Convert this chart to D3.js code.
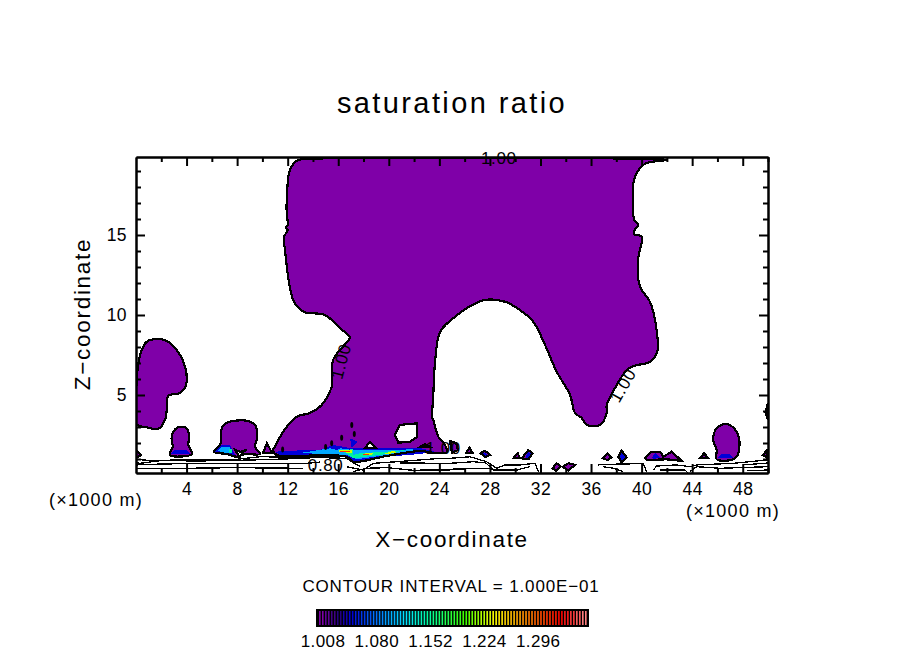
<!DOCTYPE html>
<html>
<head>
<meta charset="utf-8">
<style>
  html, body { margin: 0; background: #fff; }
  svg { display: block; }
  text { font-family: "Liberation Sans", sans-serif; fill: #000; }
</style>
<script src="https://cdn.jsdelivr.net/npm/d3@7"></script>
</head>
<body>
<div id="chart"></div>
<script>
// 文本
const titleText = "saturation ratio";
const xLabel = "X\u2212coordinate";
const yLabel = "Z\u2212coordinate";
const unitLabel = "(\u00d71000 m)";
const intervalLabel = "CONTOUR INTERVAL = 1.000E\u221201";

// 坐标轴 (x: km, z: km)
const xDomain = [0, 50];
const zDomain = [0.125, 19.875];
const xMajor = [4, 8, 12, 16, 20, 24, 28, 32, 36, 40, 44, 48];
const xMinor = [2, 6, 10, 14, 18, 22, 26, 30, 34, 38, 42, 46, 50];
const zMajor = [5, 10, 15];
const zMinor = [1, 2, 3, 4, 6, 7, 8, 9, 11, 12, 13, 14, 16, 17, 18, 19];

// 1.00 等值线包围的区域
const mainPlume = [[12.71,19.64],[14.56,19.78],[27.22,19.81],[38.29,19.78],[41.99,19.69],[40.40,19.50],[39.87,19.19],[39.40,18.44],[39.30,17.00],[39.42,15.94],[39.74,15.63],[39.40,15.25],[39.40,15.06],[40.01,14.89],[39.74,13.56],[39.74,12.19],[40.01,11.56],[40.66,10.83],[41.19,9.06],[41.24,7.71],[40.66,7.08],[39.34,6.81],[38.82,6.56],[37.90,5.44],[37.24,4.38],[37.24,3.88],[36.71,3.13],[35.66,3.13],[35.26,3.56],[34.73,3.88],[34.34,5.00],[33.28,6.46],[32.36,8.13],[31.43,9.58],[30.38,10.31],[29.19,10.83],[27.61,10.94],[26.16,10.42],[24.18,9.11],[23.92,8.64],[23.65,7.00],[23.50,4.69],[23.42,3.63],[23.52,3.44],[23.92,2.39],[24.45,1.88],[24.60,1.44],[23.65,1.38],[22.47,1.50],[19.83,1.19],[17.17,0.83],[16.67,1.14],[14.30,1.22],[11.13,1.25],[10.84,1.56],[11.00,1.77],[11.65,2.71],[12.71,3.64],[13.77,3.88],[14.69,4.38],[15.48,5.52],[15.59,7.19],[16.72,8.33],[16.93,8.61],[16.14,9.17],[14.95,10.00],[13.24,10.21],[12.44,10.94],[11.79,14.06],[11.71,14.88],[12.00,15.31],[11.84,15.50],[12.00,15.63],[11.92,16.38],[12.00,18.25],[12.18,19.06]];
const blobA = [[0,3.19],[0.85,2.98],[1.76,2.88],[2.29,3.44],[2.43,4.06],[2.56,4.94],[3.48,5.13],[3.96,5.63],[3.88,6.77],[3.22,7.81],[2.43,8.38],[1.64,8.50],[0.85,8.33],[0.37,7.63],[0.12,6.56],[0.06,5.75],[0,5.31]];
const blobB = [[2.82,2.39],[3.22,2.94],[3.88,2.98],[4.22,2.50],[4.14,1.88],[4.41,1.31],[2.69,1.25],[2.90,1.77]];
const blobC = [[6.78,2.92],[7.18,3.27],[8.76,3.39],[9.41,3.13],[9.60,2.39],[9.41,1.77],[9.81,1.31],[8.62,1.31],[7.97,1.14],[7.18,1.31],[6.17,1.46],[6.70,1.98]];
const blobE = [[45.67,2.19],[45.94,2.92],[46.73,3.19],[47.52,2.71],[47.73,1.67],[47.39,1.04],[45.94,0.98],[45.94,1.56]];
const smallCells = [
  [[0,1.56],[0.40,1.25],[0,1.06]],
  [[10.05,1.38],[10.36,2.00],[10.76,1.38]],
  [[26.11,1.36],[26.37,1.71],[26.64,1.36]],
  [[27.27,1.36],[27.61,1.52],[28.01,1.25],[27.61,1.11]],
  [[29.85,1.04],[30.20,1.36],[30.38,1.04]],
  [[30.51,1.04],[31.04,1.56],[31.38,1.36],[31.04,0.98]],
  [[36.92,1.04],[37.29,1.36],[37.63,1.11],[37.29,0.94]],
  [[38.16,1.14],[38.42,1.52],[38.82,1.11],[38.42,0.77]],
  [[40.27,1.04],[40.80,1.46],[41.46,1.46],[41.72,1.14],[42.38,1.46],[43.17,0.88],[41.99,0.98],[40.40,0.94]],
  [[44.62,1.04],[44.94,1.36],[45.28,1.04]],
  [[49.58,1.25],[49.90,1.52],[50,1.04]],
  [[32.96,0.42],[33.28,0.73],[33.60,0.52],[33.23,0.27]],
  [[33.76,0.52],[34.20,0.73],[34.73,0.63],[34.20,0.27]],
  [[24.84,2.13],[25.32,2.00],[25.47,1.56],[25.00,1.38]],
  [[50,4.50],[49.80,3.94],[50,3.44]]
];
// 羽流内部的空洞 (< 1.00)
const holes = [
  [[20.49,2.50],[20.89,3.13],[22.21,3.23],[22.25,2.39],[21.68,2.08],[20.75,2.02]],
  [[18.12,1.69],[18.51,2.08],[18.99,1.69]],
  [[22.47,1.75],[22.86,1.94],[23.26,1.75]],
  [[7.83,1.59],[8.23,1.44],[8.76,1.59],[8.39,1.38],[8.23,1.13],[7.91,1.44]]
];

// 高值区 (按等级叠放)
const blueCells = [
  [[11.00,1.46],[13.50,1.56],[14.56,1.56],[15.59,1.88],[16.93,1.69],[19.83,1.69],[22.47,1.69],[23.65,1.46],[22.47,1.31],[19.83,1.14],[17.17,0.83],[16.67,1.14],[14.30,1.19],[11.39,1.25]],
  [[2.69,1.31],[3.09,1.56],[4.01,1.56],[4.27,1.31]],
  [[6.25,1.46],[6.65,1.88],[7.44,1.88],[7.83,1.25],[7.18,1.31]],
  [[16.93,2.29],[17.56,2.08],[17.06,1.69]],
  [[30.80,1.10],[31.04,1.45],[31.30,1.30],[31.04,1.05]],
  [[38.20,1.14],[38.42,1.40],[38.70,1.12],[38.42,0.85]],
  [[40.80,1.10],[41.10,1.35],[41.50,1.10],[41.00,1.00]],
  [[27.40,1.30],[27.60,1.40],[27.85,1.25],[27.60,1.15]],
  [[46.00,1.05],[46.30,1.30],[47.00,1.30],[47.30,1.05]]
];
const cyanCells = [
  [[13.11,1.39],[15.35,1.67],[15.88,1.56],[16.14,1.67],[17.17,1.56],[20.33,1.56],[21.91,1.61],[22.20,1.46],[19.83,1.25],[17.46,0.98],[16.67,1.25],[14.56,1.31]],
  [[6.44,1.52],[6.78,1.73],[7.44,1.73],[7.57,1.35],[7.05,1.39]]
];
const greenCells = [
  [[15.98,1.52],[17.19,1.61],[17.19,1.25],[17.72,1.36],[19.83,1.46],[21.42,1.56],[19.83,1.31],[17.17,1.04],[16.67,1.36]],
  [[7.33,1.61],[7.57,1.61],[7.57,1.35],[7.33,1.39]]
];
const yellowCells = [
  [[16.00,1.56],[17.06,1.56],[17.06,1.39],[16.14,1.42]],
  [[17.86,1.31],[18.51,1.39],[18.91,1.31],[18.25,1.23]],
  [[19.70,1.36],[20.36,1.50],[20.62,1.42],[19.83,1.29]]
];
const redCells = [
  [[16.14,1.52],[16.93,1.52],[16.93,1.46],[16.14,1.46]],
  [[17.98,1.29],[18.38,1.33],[18.43,1.25],[18.04,1.25]]
];
// 小的闭合等值线
const spotCenters = [[17.07,3.13],[16.27,2.33],[17.27,2.56],[15.48,1.98],[11.60,1.60],[15.00,1.75]];

// 近地面等值线 (0.80, 0.90 ...)
const lowContours = [
  [[0,0.98],[1.34,0.89],[4.51,0.98],[7.97,0.98],[9.81,1.14],[13.50,1.11],[16.67,1.04],[17.09,0.81],[17.72,0.56]],
  [[0,0.77],[0.32,0.73],[1.90,0.89],[5.30,0.88],[9.26,0.94],[12.42,1.02],[13.77,1.04]],
  [[0,0.63],[2.14,0.69],[6.09,0.73],[10.05,0.73],[13.50,0.73],[14.56,0.81]],
  [[0,0.39],[4.01,0.42],[7.97,0.46],[10.05,0.44],[13.21,0.42]],
  [[16.67,0.52],[17.96,0.31],[18.77,0.73],[20.62,0.83],[24.05,1.04],[24.84,1.04],[26.42,1.14],[27.74,0.83],[28.53,0.42],[29.19,0.63],[30.38,0.63],[31.57,0.73],[31.83,0.21]],
  [[17.17,0.21],[18.25,0.42],[19.83,0.46],[22.21,0.27],[24.84,0.27]],
  [[20.89,0.75],[24.84,0.73],[26.69,0.83],[27.69,0.75],[28.27,0.31],[29.06,0.31],[30.12,0.31],[31.17,0.52]],
  [[22.47,0.36],[24.84,0.36],[28.01,0.42],[28.40,0.25]],
  [[36.57,0.63],[37.50,0.67],[38.82,0.69],[40.13,0.73],[40.40,0.21]],
  [[36.97,0.52],[37.76,0.42],[38.55,0.21]],
  [[40.92,0.31],[41.19,0.56],[42.77,0.63],[43.83,0.52],[44.36,0.63],[47.26,0.73],[49.90,0.94],[50,0.94]],
  [[43.83,0.21],[44.36,0.52],[46.20,0.42],[50,0.52]],
  [[48.04,0.63],[50,0.75]],
  [[48.31,0.27],[50,0.31]],
  [[41.46,0.31],[43.43,0.31],[43.67,0.13]]
];

// 等值线标注: [x, z, 文字, 角度]
const contourLabels = [
  [28.7, 19.85, "1.00", 0],
  [16.2, 7.10, "1.00", -75],
  [38.5, 5.60, "1.00", -60],
  [24.3, 1.70, "1.00", 0],
  [15.0, 0.62, "0.80", 0]
];

// 色标
const levels = [1.008,1.016,1.024,1.032,1.040,1.048,1.056,1.064,1.072,1.080,1.088,1.096,1.104,1.112,1.120,1.128,1.136,1.144,1.152,1.160,1.168,1.176,1.184,1.192,1.200,1.208,1.216,1.224,1.232,1.240,1.248,1.256,1.264,1.272,1.280,1.288,1.296,1.304,1.312,1.320,1.328,1.336,1.344,1.352,1.360];
const levelTicks = [1.008, 1.080, 1.152, 1.224, 1.296];
const colorStops = [1.008, 1.030, 1.048, 1.080, 1.120, 1.152, 1.200, 1.240, 1.280, 1.330, 1.360];
const colorValues = ["#7f00a8", "#28007a", "#0000d8", "#0070ff", "#00e0ff", "#00ffa0", "#40ff00", "#ffff00", "#ff9000", "#ff0000", "#ff8080"];

const width = 904, height = 654;
const plot = { left: 136, right: 768, top: 157, bottom: 473 };

const svg = d3.select("#chart").append("svg")
  .attr("width", width)
  .attr("height", height);

const x = d3.scaleLinear().domain(xDomain).range([plot.left, plot.right]);
const z = d3.scaleLinear().domain(zDomain).range([plot.bottom, plot.top]);

svg.append("defs").append("clipPath").attr("id", "plotClip")
  .append("rect")
  .attr("x", plot.left).attr("y", plot.top)
  .attr("width", plot.right - plot.left).attr("height", plot.bottom - plot.top);

const area = d3.line().x(d => x(d[0])).y(d => z(d[1])).curve(d3.curveLinearClosed);
const smooth = d3.line().x(d => x(d[0])).y(d => z(d[1])).curve(d3.curveCatmullRomClosed.alpha(0.5));
const open = d3.line().x(d => x(d[0])).y(d => z(d[1]));

const g = svg.append("g").attr("clip-path", "url(#plotClip)");

// 填充区域
const drawCells = (cells, color, gen) => {
  g.append("g").selectAll("path").data(cells).join("path")
    .attr("d", gen)
    .attr("fill", color)
    .attr("shape-rendering", "crispEdges");
};
const purple = colorValues[0];
drawCells([mainPlume, blobA, blobB, blobC, blobE], purple, smooth);
drawCells(smallCells, purple, area);
drawCells(holes, "#fff", area);
drawCells(blueCells, "#0000d8", area);
drawCells(cyanCells, "#00a8ff", area);
drawCells(greenCells, "#00f0a0", area);
drawCells(yellowCells, "#c8ff00", area);
drawCells(redCells, "#ff3000", area);

// 等值线
const drawOutlines = (cells, gen, w) => {
  g.append("g").selectAll("path").data(cells).join("path")
    .attr("d", gen)
    .attr("fill", "none")
    .attr("stroke", "#000")
    .attr("stroke-width", w)
    .attr("shape-rendering", "crispEdges");
};
drawOutlines([mainPlume, blobA, blobB, blobC, blobE], smooth, 2.2);
drawOutlines(smallCells, area, 2.2);
drawOutlines(holes, area, 2.2);
drawOutlines(lowContours, open, 1.3);

g.append("g").selectAll("ellipse").data(spotCenters).join("ellipse")
  .attr("cx", d => x(d[0]))
  .attr("cy", d => z(d[1]))
  .attr("rx", 1.5)
  .attr("ry", 3)
  .attr("fill", "#000");

// 标注
svg.append("g").selectAll("text").data(contourLabels).join("text")
  .attr("transform", d => `translate(${x(d[0])},${z(d[1])}) rotate(${d[3]})`)
  .attr("text-anchor", "middle")
  .attr("dy", "0.36em")
  .style("font-size", "17px")
  .style("letter-spacing", "0.6px")
  .text(d => d[2]);

// 坐标轴
const styleAxis = sel => {
  sel.select(".domain").attr("stroke-width", 2);
  sel.selectAll(".tick line").attr("stroke-width", 2);
  sel.selectAll("text").style("font-family", "'Liberation Sans', sans-serif").style("font-size", "17.5px").style("letter-spacing", "0.4px").attr("fill", "#000");
};
const noLabel = () => "";

svg.append("g").attr("transform", `translate(0,${plot.bottom})`)
  .call(d3.axisBottom(x).tickValues(xMajor).tickSize(-9).tickSizeOuter(0).tickPadding(10).tickFormat(d3.format("d")))
  .call(styleAxis);
svg.append("g").attr("transform", `translate(0,${plot.bottom})`)
  .call(d3.axisBottom(x).tickValues(xMinor).tickSize(-5).tickSizeOuter(0).tickFormat(noLabel))
  .call(styleAxis);
svg.append("g").attr("transform", `translate(0,${plot.top})`)
  .call(d3.axisTop(x).tickValues(xMajor).tickSize(-9).tickSizeOuter(0).tickFormat(noLabel))
  .call(styleAxis);
svg.append("g").attr("transform", `translate(0,${plot.top})`)
  .call(d3.axisTop(x).tickValues(xMinor).tickSize(-5).tickSizeOuter(0).tickFormat(noLabel))
  .call(styleAxis);
svg.append("g").attr("transform", `translate(${plot.left},0)`)
  .call(d3.axisLeft(z).tickValues(zMajor).tickSize(-9).tickSizeOuter(0).tickPadding(9).tickFormat(d3.format("d")))
  .call(styleAxis);
svg.append("g").attr("transform", `translate(${plot.left},0)`)
  .call(d3.axisLeft(z).tickValues(zMinor).tickSize(-5).tickSizeOuter(0).tickFormat(noLabel))
  .call(styleAxis);
svg.append("g").attr("transform", `translate(${plot.right},0)`)
  .call(d3.axisRight(z).tickValues(zMajor).tickSize(-9).tickSizeOuter(0).tickFormat(noLabel))
  .call(styleAxis);
svg.append("g").attr("transform", `translate(${plot.right},0)`)
  .call(d3.axisRight(z).tickValues(zMinor).tickSize(-5).tickSizeOuter(0).tickFormat(noLabel))
  .call(styleAxis);

// 标题和轴标签
const addText = (str, px, py, size, spacing, rotate) => {
  svg.append("text")
    .attr("transform", `translate(${px},${py}) rotate(${rotate || 0})`)
    .attr("text-anchor", "middle")
    .style("font-size", size + "px")
    .style("letter-spacing", spacing + "px")
    .text(str);
};
addText(titleText, 452, 113, 29, 2.4);
addText(xLabel, 452, 547, 22.5, 1.7);
addText(yLabel, 90, 314, 22.5, 1.7, -90);
addText(unitLabel, 96, 506, 18, 1.3);
addText(unitLabel, 733, 517, 18, 1.3);
addText(intervalLabel, 451, 592, 17, 0.85);

// 色标
const bar = { left: 316, right: 589, top: 609, bottom: 627 };
const barX = d3.scaleBand().domain(levels).range([bar.left + 2, bar.right - 2]);
const barColor = d3.scaleLinear().domain(colorStops).range(colorValues);

svg.append("rect")
  .attr("x", bar.left).attr("y", bar.top)
  .attr("width", bar.right - bar.left).attr("height", bar.bottom - bar.top)
  .attr("fill", "#000");

[0, 0.5].forEach(offset => {
  svg.append("g").selectAll("rect").data(levels).join("rect")
    .attr("x", d => barX(d) + offset * barX.bandwidth() + 1)
    .attr("y", bar.top + 2)
    .attr("width", 1.6)
    .attr("height", bar.bottom - bar.top - 4)
    .attr("fill", d => barColor(d));
});

svg.append("g").selectAll("text").data(levelTicks).join("text")
  .attr("x", d => barX(d) + 5)
  .attr("y", 647)
  .attr("text-anchor", "middle")
  .style("font-size", "17px")
  .style("letter-spacing", "0.4px")
  .text(d => d.toFixed(3));
</script>
</body>
</html>
